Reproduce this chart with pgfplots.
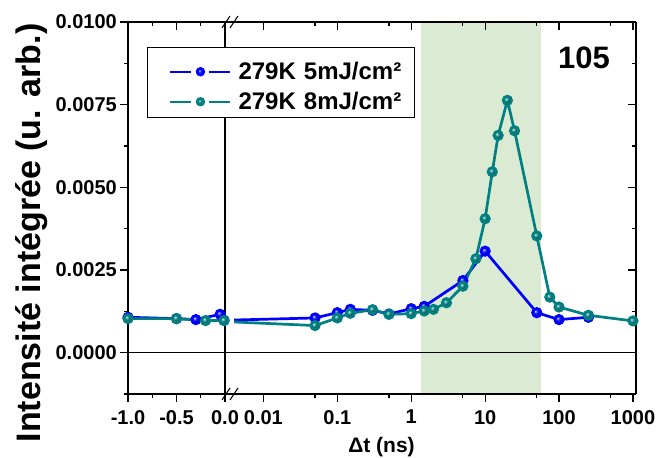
\documentclass[border=0pt]{standalone}
\usepackage{pgfplots}
\pgfplotsset{compat=1.18}
\usepackage{fontspec}
\setmainfont{Liberation Sans}
\definecolor{myblue}{RGB}{0,0,255}
\definecolor{myteal}{RGB}{0,128,128}
\definecolor{band}{RGB}{218,234,211}
\pgfplotsset{
  base/.style={
    scale only axis, height=372bp, ymin=-0.00125, ymax=0.01,
    anchor=south west,
    /pgf/number format/assume math mode=true,
    tick label style={font=\fontsize{20bp}{24bp}\selectfont\bfseries},
    major tick length=8bp, minor tick length=4.5bp,
    every tick/.style={black, line width=1.2bp},
    axis line style={black, line width=1.4bp},
    scaled y ticks=false, scaled x ticks=false,
    ytick={0,0.0025,0.005,0.0075,0.01},
    minor ytick={-0.00125,0.00125,0.00375,0.00625,0.00875},
  },
  ser/.style={line width=2.7bp, mark=ball, mark size=4.2bp},
}
\begin{document}
\begin{tikzpicture}
\path[use as bounding box] (0bp,0bp) rectangle (657bp,458bp);
% left (linear) part
\begin{axis}[base, name=L, at={(128bp,64bp)}, width=97bp,
  xmin=-1, xmax=0, axis on top,
  tick align=outside, xtick pos=left, ytick pos=left,
  xtick={-1,-0.5,0}, xticklabels={-1.0,-0.5,0.0},
  minor xtick={-0.75,-0.25},
  yticklabels={0.0000,0.0025,0.0050,0.0075,0.0100},
  xticklabel style={inner sep=0pt, yshift=-8bp},
  yticklabel style={inner sep=0pt, xshift=-3bp},
]
\addplot[black, line width=1.3bp, forget plot] coordinates {(-1,0) (0,0)};
\addplot[ser, myblue, mark options={ball color=myblue}] coordinates {
(-1.0,0.00107) (-0.5,0.00103) (-0.3,0.00100) (-0.05,0.00116) (-0.01,0.00098)};
\addplot[ser, myteal, mark options={ball color=myteal}] coordinates {
(-1.0,0.00103) (-0.5,0.00103) (-0.2,0.00097) (-0.01,0.00097)};
\coordinate (z0) at (axis cs:0,0);
\end{axis}
% right (log) part
\begin{axis}[base, name=R, at={(234bp,64bp)}, width=402bp,
  xmode=log, xmin=0.004, xmax=1100, axis on top,
  axis x line*=box, axis y line*=right, ytick=\empty,
  tick align=outside, xtick pos=left,
  xtick={0.01,0.1,1,10,100,1000}, xticklabels={0.01,0.1,1,10,100,1000},
  minor xtick={0.05,0.5,5,50,500},
  xticklabel style={inner sep=0pt, yshift=-8bp},
  legend style={at={(axis description cs:-0.2164,0.932)}, anchor=north west,
    draw=black, line width=0.9bp, fill=white,
    font=\fontsize{24bp}{28bp}\selectfont\bfseries,
    inner xsep=6bp, inner ysep=8bp, row sep=6bp, column sep=7bp,
    nodes={inner sep=0pt, text height=24bp, text depth=0bp, text width=170bp}},
  legend cell align=left,
  legend image code/.code={
    \path[draw=none, fill=none] (-17bp,-4bp) -- (60bp,-4bp);
    \draw[#1, mark=none, line width=2.2bp] (0bp,-4bp) -- (21bp,-4bp);
    \draw[#1, mark=none, line width=2.2bp] (39bp,-4bp) -- (60bp,-4bp);
    \draw[#1, mark size=3.3bp, only marks] plot coordinates {(30bp,-4bp)};
  },
]
\addplot[fill=band, draw=none, forget plot] coordinates {
(1.37,-0.00125) (1.37,0.01) (57.3,0.01) (57.3,-0.00125)} -- cycle;
\addplot[black, line width=1.3bp, forget plot] coordinates {(0.004,0) (1100,0)};
\addplot[ser, myblue, mark options={ball color=myblue}] coordinates {
(0.003,0.00098) (0.05,0.00105) (0.1,0.00121) (0.15,0.00131) (0.3,0.00128)
(0.5,0.00117) (1,0.00133) (1.5,0.00140) (5,0.00218) (10,0.00307)
(50,0.00121) (100,0.00100) (250,0.00107)};
\addlegendentry{279K 5mJ/cm²}
\addplot[ser, myteal, mark options={ball color=myteal}] coordinates {
(0.003,0.00094) (0.05,0.00082) (0.1,0.00105) (0.15,0.00119) (0.3,0.00130)
(0.5,0.00116) (1,0.00118) (1.5,0.00126) (2,0.00131) (3,0.00151)
(5,0.00201) (7.5,0.00284) (10,0.00405) (12.5,0.00547) (15,0.00657)
(20,0.00763) (25,0.00671) (50,0.00353) (75,0.00168) (100,0.00138)
(250,0.00113) (1000,0.00096)};
\addlegendentry{279K 8mJ/cm²}
\coordinate (z1) at (axis cs:0.004,0);
\end{axis}
% inward ticks on top / right
\begin{axis}[base, at={(128bp,64bp)}, width=97bp, xmin=-1, xmax=0,
  axis line style={draw=none}, tick align=inside, xtick pos=right,
  ytick=\empty, minor ytick=\empty,
  xtick={-1,-0.5,0}, minor xtick={-0.75,-0.25}, xticklabels={}]
\end{axis}
\begin{axis}[base, at={(234bp,64bp)}, width=402bp, xmode=log, xmin=0.004, xmax=1100,
  axis line style={draw=none}, tick align=inside, xtick pos=right, ytick pos=right,
  xtick={0.01,0.1,1,10,100,1000}, minor xtick={0.05,0.5,5,50,500},
  xticklabels={}, yticklabels={}]
\end{axis}
\draw[line width=1.4bp] (L.north east) -- (R.north west);
\draw[line width=1.4bp] (L.south east) -- (R.south west);
\draw[line width=1.3bp] (z0) -- (z1);
% axis break marks
\foreach \yy in {64,436} {
  \draw[line width=1bp] (222bp,\yy bp-6bp) -- (230bp,\yy bp+6bp);
  \draw[line width=1bp] (230bp,\yy bp-6bp) -- (238bp,\yy bp+6bp);
}
\node[rotate=90, anchor=base, font=\fontsize{34bp}{40bp}\selectfont\bfseries]
  at (40bp,225bp) {Intensité intégrée (u. arb.)};
\node[anchor=base, font=\fontsize{21bp}{25bp}\selectfont\bfseries]
  at (381.5bp,6bp) {Δt (ns)};
\node[anchor=base, font=\fontsize{31bp}{36bp}\selectfont\bfseries]
  at (584bp,389bp) {105};
\end{tikzpicture}
\end{document}
